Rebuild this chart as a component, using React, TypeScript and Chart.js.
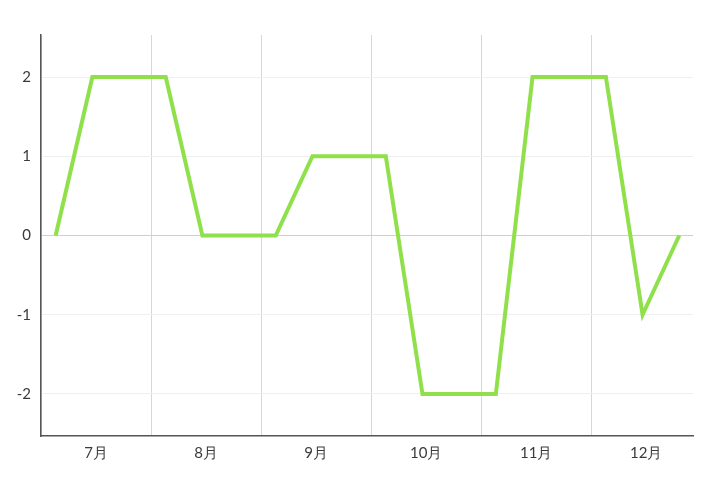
import React, { useEffect, useRef } from 'react';
import { Chart, registerables } from 'chart.js';

Chart.register(...registerables);

// sample dates (month/day) and their values
const dates = [
  '7/5', '7/15', '7/25',
  '8/5', '8/15', '8/25',
  '9/5', '9/15', '9/25',
  '10/5', '10/15', '10/25',
  '11/5', '11/15', '11/25',
  '12/5', '12/15', '12/25',
];
const values = [0, 2, 2, 2, 0, 0, 0, 1, 1, 1, -2, -2, -2, 2, 2, 2, -1, 0];
const monthLabels = ['7月', '8月', '9月', '10月', '11月', '12月'];
const yTicks = [-2, -1, 0, 1, 2];
const firstMonth = 7;

// month-based position: whole months from July plus fraction of the month
const toX = (date: string) => {
  const [m, d] = date.split('/').map(Number);
  return m - firstMonth + (d - 1) / 30;
};

const FONT = 'Lato, "Noto Sans", sans-serif';

const App: React.FC = () => {
  const chartRef = useRef<HTMLCanvasElement>(null);
  const chartInstance = useRef<Chart | null>(null);

  useEffect(() => {
    if (!chartRef.current) return;
    document.body.style.margin = '0';

    if (chartInstance.current) {
      chartInstance.current.destroy();
    }

    const ctx = chartRef.current.getContext('2d');
    if (!ctx) return;

    chartInstance.current = new Chart(ctx, {
      type: 'line',
      data: {
        datasets: [
          {
            data: dates.map((d, i) => ({ x: toX(d), y: values[i] })),
            borderColor: '#8fe04a',
            borderWidth: 4,
            pointRadius: 0,
            tension: 0,
            fill: false,
          },
        ],
      },
      options: {
        animation: false,
        responsive: true,
        maintainAspectRatio: false,
        layout: {
          padding: { top: 35, right: 27, left: 0, bottom: 0 },
        },
        plugins: {
          legend: { display: false },
          tooltip: { enabled: false },
        },
        scales: {
          x: {
            type: 'linear',
            min: 0,
            max: 5.925,
            afterBuildTicks: (scale: any) => {
              scale.ticks = monthLabels.map((_, i) => ({ value: i }));
            },
            afterFit: (scale: any) => {
              scale.height = 53;
            },
            ticks: {
              autoSkip: false,
              maxRotation: 0,
              labelOffset: 55,
              padding: 8,
              color: '#3a3a3a',
              font: { family: FONT, size: 15 },
              callback: (v: any) => monthLabels[v] ?? '',
            },
            grid: {
              color: '#d6d6d6',
              lineWidth: 1,
              drawTicks: false,
            },
            border: { color: '#555', width: 1.5 },
          },
          y: {
            type: 'linear',
            min: -2.53,
            max: 2.53,
            afterBuildTicks: (scale: any) => {
              scale.ticks = yTicks.map(v => ({ value: v }));
            },
            afterFit: (scale: any) => {
              scale.width = 41;
            },
            ticks: {
              padding: 10,
              color: '#3a3a3a',
              font: { family: FONT, size: 15 },
            },
            grid: {
              color: (c: any) => (c.tick && c.tick.value === 0 ? '#cfcfcf' : '#efefef'),
              lineWidth: 1,
              drawTicks: false,
            },
            border: { color: '#555', width: 1.5 },
          },
        },
      },
    });

    return () => {
      if (chartInstance.current) {
        chartInstance.current.destroy();
        chartInstance.current = null;
      }
    };
  }, []);

  return (
    <div style={{ position: 'relative', width: '720px', height: '489px' }}>
      <canvas ref={chartRef}></canvas>
    </div>
  );
};

export default App;
